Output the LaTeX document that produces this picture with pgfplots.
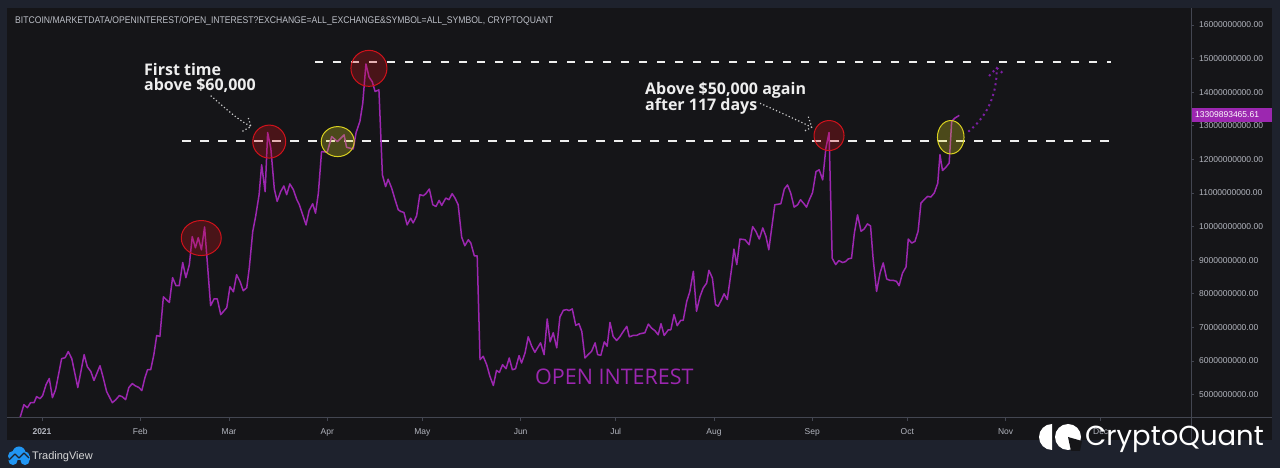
\documentclass[border=0pt]{standalone}
\usepackage{pgfplots}
\pgfplotsset{compat=1.18}
\usepackage{pgfplotstable}
\usepackage{graphicx}
\usepackage{fontspec}
\setmainfont{Liberation Sans}
\newfontfamily\annfont{Open Sans}
\newfontfamily\logofont{Poppins}
\usetikzlibrary{arrows.meta}
\definecolor{outerbg}{HTML}{1E222D}
\definecolor{panelbg}{HTML}{151518}
\definecolor{oi}{HTML}{9C27B0}
\definecolor{axisline}{HTML}{434651}
\definecolor{ticktext}{HTML}{B2B5BE}
\definecolor{redc}{HTML}{D0121B}
\definecolor{yelc}{HTML}{D8D020}
\definecolor{arrowpurple}{HTML}{7B1FA2}
\definecolor{annwhite}{HTML}{EEEEEE}
\definecolor{tvblue}{HTML}{2196F3}

\pgfplotstableread{
day value
-6.9 4.32
-5.7 4.70
-4.6 4.61
-3.6 4.76
-2.5 4.76
-1.7 4.94
-0.6 4.88
0.2 4.97
1.3 5.30
2.3 5.48
3.3 4.91
4.3 5.15
6.2 6.07
7.3 6.10
8.3 6.28
9.4 6.07
11.3 5.21
13.3 6.19
14.3 5.83
15.4 5.69
16.4 5.42
18.3 5.86
19.3 5.51
20.4 5.09
22.2 4.76
23.3 4.85
24.4 4.97
25.3 4.94
26.4 4.85
27.4 5.21
28.5 5.33
29.3 5.27
30.6 5.21
31.5 5.12
32.5 5.51
33.3 5.74
34.3 5.74
35.3 6.19
36.2 6.76
37.2 6.73
38.3 7.91
40.2 7.74
41.2 8.48
42.3 8.24
43.3 8.24
44.4 8.93
45.4 8.48
46.5 8.87
47.4 9.70
48.4 9.37
49.3 9.67
50.3 9.31
51.3 9.99
53.2 7.65
54.3 7.85
55.3 7.85
56.4 7.38
58.3 7.59
59.3 8.21
60.4 8.06
61.4 8.57
62.5 8.36
63.5 8.09
64.6 8.18
65.4 8.77
66.5 9.86
67.4 10.30
68.5 10.95
69.3 11.84
70.4 11.04
71.2 12.80
72.2 12.33
73.3 11.12
74.2 10.75
75.3 11.04
76.3 11.21
77.2 10.95
78.2 11.27
79.3 11.10
80.4 10.80
81.2 10.65
83.3 10.05
84.3 10.48
85.4 10.68
86.3 10.40
87.2 11.00
88.2 12.23
90.0 12.22
91.4 12.68
93.2 12.53
95.3 12.73
96.1 12.36
98.2 12.31
99.1 12.80
100.3 13.13
101.2 13.67
102.2 14.84
103.2 14.45
104.2 14.31
105.1 14.02
106.3 14.07
107.4 11.54
108.4 11.19
109.2 11.41
110.3 11.15
111.4 10.80
112.4 10.50
113.2 10.45
114.2 10.42
115.2 10.05
116.3 10.25
117.1 10.11
118.2 10.32
119.2 10.95
120.3 10.92
121.1 10.98
122.2 11.12
123.3 10.65
124.3 10.60
125.3 10.78
126.1 10.63
127.4 10.85
128.4 10.80
129.4 10.98
130.3 10.85
131.3 10.65
132.4 9.69
133.4 9.43
134.5 9.61
135.3 9.51
136.4 9.13
137.3 9.13
138.2 6.04
139.2 6.14
140.3 5.89
141.3 5.55
142.4 5.27
143.4 5.72
144.3 5.66
145.3 5.89
146.4 5.77
147.4 6.09
148.4 5.74
149.4 5.77
150.5 6.16
151.3 5.94
152.4 6.24
153.4 6.72
154.5 6.44
155.5 6.26
157.3 6.54
158.4 6.19
159.4 7.25
160.3 6.57
161.3 6.84
162.4 6.39
163.4 7.31
164.5 7.51
165.5 7.53
166.3 7.50
167.3 7.55
168.4 7.06
169.4 7.11
170.3 6.88
171.3 6.09
172.3 6.19
173.4 6.29
174.5 6.54
175.3 6.19
176.3 6.17
177.4 6.57
178.3 6.44
179.2 7.15
180.2 6.73
181.3 6.61
182.3 6.72
183.4 6.88
184.5 7.03
185.3 6.72
186.5 6.76
187.6 6.76
188.6 6.81
190.2 6.84
191.3 7.10
192.3 6.98
193.4 6.90
194.4 6.78
195.3 7.11
196.3 6.76
197.6 6.93
198.4 6.93
199.4 7.38
200.4 7.05
201.5 7.21
202.3 7.21
203.4 7.77
204.4 8.07
205.5 8.67
206.5 7.48
207.6 7.92
208.6 8.17
209.7 8.32
210.4 8.70
211.5 8.47
212.5 7.68
213.3 7.63
214.4 7.83
215.2 8.00
216.2 7.83
217.6 8.77
218.3 9.33
219.2 8.87
220.2 9.63
221.8 9.61
223.1 9.46
224.2 10.00
225.2 9.86
226.3 9.63
227.4 9.96
228.4 9.71
229.3 9.31
231.2 10.65
233.1 10.68
234.2 11.12
235.2 11.24
236.2 11.00
237.3 10.58
238.4 10.65
239.3 10.80
240.4 10.68
241.2 10.58
242.1 10.80
243.1 11.01
244.2 11.64
245.2 11.69
246.3 11.39
247.3 12.33
248.3 12.80
249.3 9.06
250.4 8.87
251.4 8.99
252.6 8.93
253.5 8.96
254.4 9.04
255.4 9.06
256.3 9.81
257.3 10.35
258.4 9.86
259.4 9.93
260.4 10.08
261.4 10.02
262.2 9.06
263.3 8.07
264.4 8.62
265.4 8.92
266.5 8.44
267.5 8.40
268.6 8.40
269.6 8.37
270.4 8.24
271.5 8.62
272.6 8.80
273.3 9.63
274.4 9.51
275.4 9.56
276.4 9.86
277.3 10.70
278.3 10.80
279.4 10.90
280.4 10.88
281.5 11.00
282.6 11.29
283.3 12.14
284.1 11.67
285.2 11.77
286.2 11.89
287.0 13.13
288.0 13.23
289.4 13.31
}\oidata

\begin{document}
\begin{tikzpicture}[x=1pt,y=1pt]
\useasboundingbox (0,0) rectangle (1280,468);
\fill[outerbg] (0,0) rectangle (1280,468);
\fill[panelbg] (7,28) rectangle (1272,460);
\begin{axis}[
  at={(10pt,50pt)}, anchor=south west, scale only axis,
  width=1181pt, height=410pt,
  xmin=-10.09, xmax=362.5, ymin=4.304, ymax=16.506,
  axis x line*=bottom, axis y line*=right,
  axis line style={draw=none},
  xtick={0,31,59,90,120,151,181,212,243,273,304,334},
  xticklabels={\textbf{2021},Feb,Mar,Apr,May,Jun,Jul,Aug,Sep,Oct,Nov,Dec},
  ytick={5,6,7,8,9,10,11,12,13,14,15,16},
  yticklabels={5000000000.00,6000000000.00,7000000000.00,8000000000.00,9000000000.00,10000000000.00,11000000000.00,12000000000.00,13000000000.00,14000000000.00,15000000000.00,16000000000.00},
  tick align=outside, major tick length=3pt,
  tick style={draw=axisline, line width=0.8pt},
  ticklabel style={font=\fontsize{8.5}{10}\selectfont, text=ticktext},
  yticklabel style={anchor=west, inner sep=0pt, xshift=5pt},
  xticklabel style={anchor=base, inner sep=0pt, yshift=-14pt},
  clip=true,
]
\addplot[draw=annwhite, line width=2pt, dash pattern=on 8.5pt off 9.5pt] coordinates {(44.2,12.55) (337.2,12.55)};
\addplot[draw=annwhite, line width=2pt, dash pattern=on 8.5pt off 9.5pt] coordinates {(86.1,14.90) (337.2,14.90)};
\addplot[draw=oi, line width=1.5pt, line join=round] table[x=day, y=value] {\oidata};
% highlight circles
\draw[redc, line width=1pt, fill=redc, fill opacity=0.28] (axis cs:50.25,9.66) ellipse [x radius=20pt, y radius=17.5pt];
\draw[redc, line width=1pt, fill=redc, fill opacity=0.28] (axis cs:71.7,12.53) ellipse [x radius=16.5pt, y radius=16.5pt];
\draw[redc, line width=1pt, fill=redc, fill opacity=0.28] (axis cs:103.15,14.71) ellipse [x radius=18pt, y radius=18pt];
\draw[redc, line width=1pt, fill=redc, fill opacity=0.28] (axis cs:248.3,12.71) ellipse [x radius=15pt, y radius=15pt];
\draw[yelc, line width=1pt, fill=yelc, fill opacity=0.28] (axis cs:93.3,12.53) ellipse [x radius=16.5pt, y radius=15pt];
\draw[yelc, line width=1pt, fill=yelc, fill opacity=0.28] (axis cs:286.7,12.66) ellipse [x radius=13.3pt, y radius=16.7pt];
\end{axis}
% axis frame lines
\draw[axisline, line width=1pt] (1191.5,28) -- (1191.5,460);
\draw[axisline, line width=1pt] (7,50) -- (1272,50);
% title
\node[anchor=base west, inner sep=0pt, text=ticktext!85!white] at (15,444.5)
  {\resizebox{538pt}{7pt}{\fontsize{9.5}{10}\selectfont BITCOIN/MARKETDATA/OPENINTEREST/OPEN\_INTEREST?EXCHANGE=ALL\_EXCHANGE\&SYMBOL=ALL\_SYMBOL, CRYPTOQUANT}};
% last value label
\fill[oi] (1192,346.3) rectangle (1271.7,359.7);
\node[text=white, inner sep=0pt, anchor=west] at (1195,353) {\fontsize{8.5}{10}\selectfont 13309893465.61};
% annotations
\node[anchor=base west, inner sep=0pt, text=annwhite] at (144,392.3) {\annfont\bfseries\fontsize{16}{15}\selectfont First time};
\node[anchor=base west, inner sep=0pt, text=annwhite] at (144,377) {\annfont\bfseries\fontsize{16}{15}\selectfont above \$60,000};
\node[anchor=base west, inner sep=0pt, text=annwhite] at (645,373) {\annfont\bfseries\fontsize{16}{15}\selectfont Above \$50,000 again};
\node[anchor=base west, inner sep=0pt, text=annwhite] at (645,357.7) {\annfont\bfseries\fontsize{16}{15}\selectfont after 117 days};
\node[anchor=base west, inner sep=0pt, text=oi] at (535,83) {\annfont\fontsize{21.5}{22}\selectfont OPEN INTEREST};
% dotted arrows
\draw[annwhite!85!black, line width=1.2pt, dash pattern=on 1.2pt off 2.3pt] (210.7,372.3) .. controls (225,360) and (238,348) .. (251,341.5);
\draw[annwhite!85!black, line width=1.2pt, dash pattern=on 1.2pt off 2.3pt] (248.3,350) -- (251,341.5) -- (241.7,336.3);
\draw[annwhite!85!black, line width=1.2pt, dash pattern=on 1.2pt off 2.3pt] (760,364.7) .. controls (775,358) and (795,349) .. (811.7,340.7);
\draw[annwhite!85!black, line width=1.2pt, dash pattern=on 1.2pt off 2.3pt] (808.3,351.3) -- (811.7,340.7) -- (803.3,336.3);
\draw[arrowpurple, line width=2pt, dash pattern=on 2pt off 3.5pt] (968.3,336.3) .. controls (985,350) and (997,370) .. (996.7,400);
\draw[arrowpurple, line width=2pt, dash pattern=on 2pt off 3.5pt] (989,392) -- (996.7,400) -- (1005,393);
% TradingView logo
\begin{scope}
\fill[tvblue] (13,12) circle (5) (19,15) circle (6.5) (25,12) circle (4.5);
\fill[tvblue] (8.5,7.5) rectangle (29.5,12);
\fill[tvblue] (13,7.5) circle (4.5) (25,7.5) circle (4.5);
\draw[outerbg, line width=1.3pt, line join=round] (9,8) -- (15,14) -- (19,10) -- (24,15) -- (29,10);
\end{scope}
\node[anchor=base west, inner sep=0pt, text=annwhite!90!black] at (32,8.5) {\fontsize{11}{12}\selectfont TradingView};
% CryptoQuant logo
\fill[white] (1052,44) arc[start angle=90, end angle=270, radius=13] -- cycle;
\fill[white] (1068,31) circle (13);
\fill[panelbg] (1068,31) -- (1082,27) -- (1080,17) -- (1071,17) -- cycle;
\node[anchor=base west, inner sep=0pt, text=white] at (1085,22) {\logofont\fontsize{27.5}{30}\selectfont CryptoQuant};
\end{tikzpicture}
\end{document}
